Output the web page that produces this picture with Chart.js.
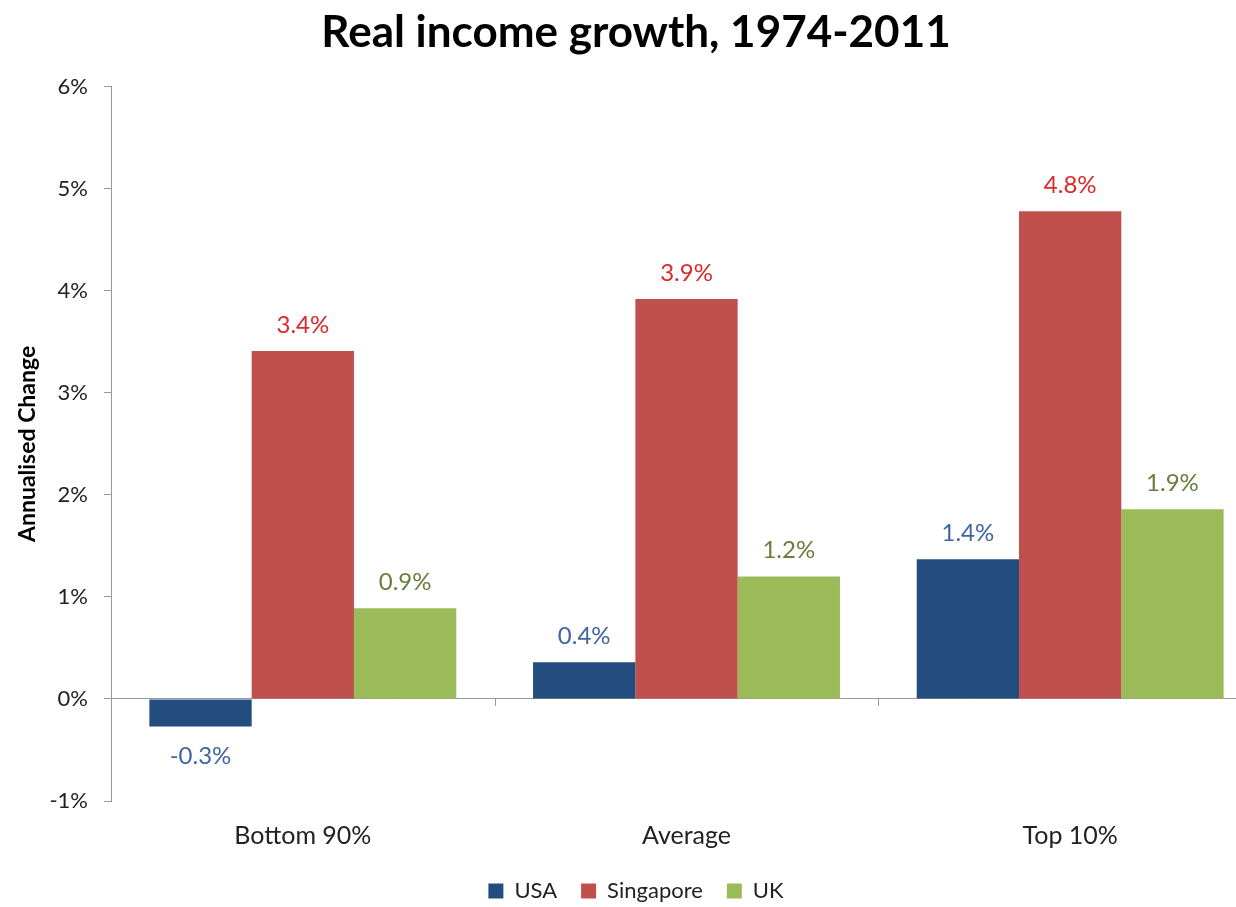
<!DOCTYPE html>
<html>
<head>
<meta charset="utf-8">
<script src="https://cdn.jsdelivr.net/npm/chart.js@4.4.1/dist/chart.umd.min.js"></script>
<style>
html,body{margin:0;padding:0;background:#fff;overflow:hidden;}
#wrap{position:relative;width:1262px;height:907px;}
</style>
</head>
<body>
<div id="wrap"><canvas id="c" width="1262" height="907"></canvas></div>
<script>
const categories = ['Bottom 90%', 'Average', 'Top 10%'];
const usa = [-0.27, 0.36, 1.37];
const singapore = [3.41, 3.92, 4.78];
const uk = [0.89, 1.20, 1.86];
const yTicks = [-1, 0, 1, 2, 3, 4, 5, 6];

const FONT = 'Lato, "Open Sans", sans-serif';

const labelPlugin = {
  id: 'valueLabels',
  afterDatasetsDraw(chart) {
    const ctx = chart.ctx;
    chart.data.datasets.forEach((ds, di) => {
      const meta = chart.getDatasetMeta(di);
      meta.data.forEach((bar, i) => {
        const v = ds.data[i];
        const txt = v.toFixed(1) + '%';
        ctx.save();
        ctx.font = '24px ' + FONT;
        ctx.fillStyle = ds.labelColor;
        ctx.textAlign = 'center';
        ctx.textBaseline = 'middle';
        const y = v >= 0 ? bar.y - 26 : bar.y + 30;
        ctx.fillText(txt, bar.x, y);
        ctx.restore();
      });
    });
  }
};

const catTickPlugin = {
  id: 'catTicks',
  afterDraw(chart) {
    const x = chart.scales.x, y = chart.scales.y;
    const y0 = y.getPixelForValue(0);
    const ctx = chart.ctx;
    ctx.save();
    ctx.strokeStyle = '#999';
    ctx.lineWidth = 1;
    for (let i = 0; i < categories.length - 1; i++) {
      const px = Math.round((x.getPixelForValue(i) + x.getPixelForValue(i + 1)) / 2) + 0.5;
      ctx.beginPath();
      ctx.moveTo(px, y0);
      ctx.lineTo(px, y0 + 7);
      ctx.stroke();
    }
    ctx.restore();
  }
};

new Chart(document.getElementById('c'), {
  type: 'bar',
  data: {
    labels: categories,
    datasets: [
      { label: 'USA', data: usa, backgroundColor: '#234D7E', labelColor: '#3E66A0' },
      { label: 'Singapore', data: singapore, backgroundColor: '#C0504D', labelColor: '#DA2A2A' },
      { label: 'UK', data: uk, backgroundColor: '#9BBB59', labelColor: '#6A7E3A' }
    ]
  },
  options: {
    responsive: false,
    animation: false,
    devicePixelRatio: 1,
    layout: { padding: { left: 10, right: 0, top: 6, bottom: -5 } },
    datasets: { bar: { categoryPercentage: 0.8, barPercentage: 1.0 } },
    plugins: {
      title: {
        display: true,
        text: 'Real income growth, 1974-2011',
        color: '#000',
        font: { family: FONT, size: 44, weight: 'bold' },
        padding: { top: 0, bottom: 28 }
      },
      legend: {
        position: 'bottom',
        labels: {
          color: '#222',
          font: { family: FONT, size: 22 },
          boxWidth: 15, boxHeight: 15, padding: 24
        }
      },
      tooltip: { enabled: false }
    },
    scales: {
      x: {
        grid: { display: false, drawTicks: false },
        border: { display: false },
        ticks: { color: '#222', font: { family: FONT, size: 25, lineHeight: 1.5 }, padding: 16 },
        afterFit(axis) { axis.height = 55; }
      },
      y: {
        min: -1, max: 6,
        afterBuildTicks(axis) { axis.ticks = yTicks.map(v => ({ value: v })); },
        afterFit(axis) { axis.width = 101; },
        ticks: {
          color: '#222',
          font: { family: FONT, size: 22 },
          padding: 16,
          callback: v => v + '%'
        },
        grid: {
          drawOnChartArea: true,
          color: ctx => (ctx.tick && ctx.tick.value === 0) ? '#999' : 'rgba(0,0,0,0)',
          tickColor: '#999',
          tickLength: 7
        },
        border: { display: true, color: '#999' },
        title: {
          display: true,
          text: 'Annualised Change',
          color: '#000',
          font: { family: FONT, size: 23, weight: 'bold' },
          padding: { top: 4, bottom: 10 }
        }
      }
    }
  },
  plugins: [labelPlugin, catTickPlugin]
});
</script>
</body>
</html>
